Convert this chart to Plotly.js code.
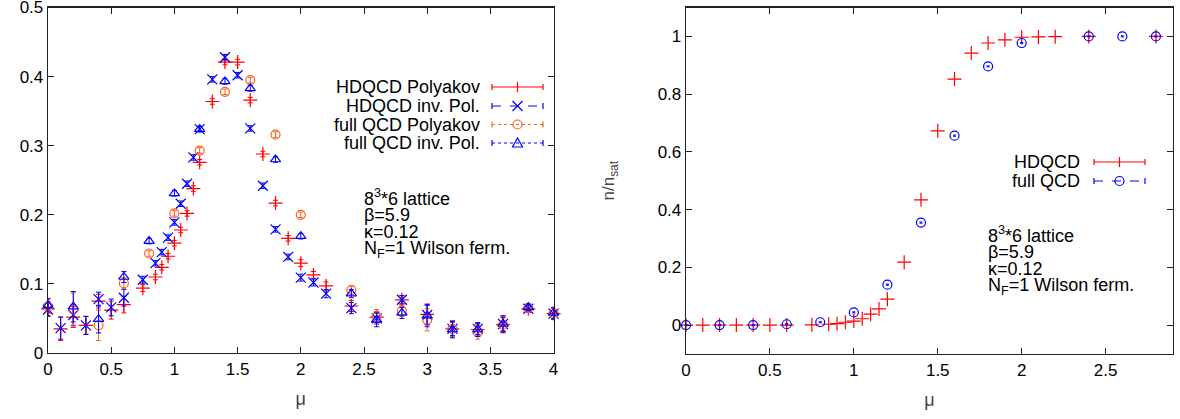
<!DOCTYPE html>
<html>
<head>
<meta charset="utf-8">
<script src="https://cdn.plot.ly/plotly-3.0.1.min.js"></script>
<style>html,body{margin:0;padding:0;background:#fff;}#chart{width:1180px;height:419px;}</style>
</head>
<body>
<div id="chart"></div>
<script>
// ---------- Left panel data (Polyakov loops vs mu) ----------
const muHD = [0,0.1,0.2,0.3,0.4,0.5,0.6,0.75,0.85,0.9,0.95,1.0,1.05,1.1,1.15,1.2,1.3,1.4,1.5,1.6,1.7,1.8,1.9,2.0,2.1,2.2,2.4,2.6,2.8,3.0,3.2,3.4,3.6,3.8,4.0];
const hdPol = [0.064,0.035,0.052,0.040,0.075,0.062,0.070,0.094,0.110,0.124,0.140,0.159,0.178,0.202,0.238,0.276,0.364,0.421,0.421,0.366,0.288,0.217,0.166,0.130,0.113,0.097,0.068,0.052,0.077,0.056,0.035,0.034,0.041,0.064,0.057];
const hdPolErr = [0.010,0.017,0.015,0.013,0.010,0.013,0.012,0.005,0.004,0.004,0.004,0.004,0.004,0.004,0.004,0.004,0.004,0.004,0.004,0.004,0.004,0.004,0.004,0.005,0.005,0.006,0.008,0.008,0.006,0.015,0.010,0.008,0.010,0.005,0.008];
const hdInv = [0.063,0.036,0.055,0.040,0.078,0.066,0.080,0.106,0.130,0.146,0.167,0.189,0.216,0.245,0.283,0.324,0.396,0.428,0.402,0.325,0.242,0.179,0.139,0.109,0.102,0.086,0.065,0.050,0.077,0.055,0.035,0.035,0.042,0.064,0.057];
const hdInvErr = [0.010,0.016,0.015,0.013,0.010,0.012,0.012,0.005,0.004,0.004,0.004,0.004,0.004,0.004,0.004,0.004,0.004,0.004,0.004,0.004,0.004,0.004,0.004,0.005,0.005,0.006,0.008,0.008,0.006,0.014,0.010,0.008,0.010,0.005,0.008];
const muFull = [0,0.2,0.4,0.6,0.8,1.0,1.2,1.4,1.6,1.8,2.0,2.4,2.6,2.8,3.0,3.2,3.4,3.6,3.8,4.0];
const fullPol = [0.067,0.063,0.040,0.101,0.144,0.202,0.293,0.378,0.395,0.316,0.200,0.091,0.053,0.061,0.048,0.035,0.030,0.041,0.065,0.058];
const fullPolErr = [0.010,0.024,0.022,0.008,0.004,0.004,0.004,0.004,0.004,0.004,0.004,0.006,0.010,0.008,0.016,0.012,0.010,0.012,0.005,0.008];
const fullInv = [0.069,0.067,0.049,0.110,0.162,0.231,0.324,0.393,0.383,0.280,0.169,0.086,0.048,0.058,0.054,0.034,0.034,0.042,0.066,0.058];
const fullInvErr = [0.010,0.022,0.020,0.008,0.004,0.004,0.004,0.004,0.004,0.004,0.004,0.006,0.010,0.008,0.016,0.012,0.010,0.012,0.005,0.008];

// ---------- Right panel data (n/n_sat vs mu) ----------
const muHD2 = [0,0.1,0.2,0.3,0.4,0.5,0.6,0.75,0.85,0.9,0.95,1.0,1.05,1.1,1.15,1.2,1.3,1.4,1.5,1.6,1.7,1.8,1.9,2.0,2.1,2.2,2.4,2.8];
const nHD = [0,0,0,0,0,0,0,0.001,0.003,0.005,0.010,0.014,0.022,0.038,0.056,0.090,0.218,0.434,0.673,0.852,0.942,0.977,0.988,0.997,0.998,0.999,1.0,1.0];
const muFull2 = [0,0.2,0.4,0.6,0.8,1.0,1.2,1.4,1.6,1.8,2.0,2.4,2.6,2.8];
const nFull = [0,0,0,0.003,0.010,0.044,0.140,0.355,0.656,0.896,0.977,1.0,1.0,1.0];
const nFullErr = [0.002,0.002,0.002,0.002,0.002,0.002,0.002,0.002,0.002,0.002,0.002,0.002,0.002,0.002];

// ---------- Labels ----------
const leftLegend = ["HDQCD Polyakov","HDQCD inv. Pol.","full QCD Polyakov","full QCD inv. Pol."];
const rightLegend = ["HDQCD","full QCD"];
const infoLines = ["8<sup>3</sup>*6 lattice","β=5.9","κ=0.12","N<sub>F</sub>=1 Wilson ferm."];
const xTicksL = [0,0.5,1,1.5,2,2.5,3,3.5,4];
const yTicksL = [0,0.1,0.2,0.3,0.4,0.5];
const xTicksR = [0,0.5,1,1.5,2,2.5];
const yTicksR = [0,0.2,0.4,0.6,0.8,1];

const RED = '#ff0000', BLUE = '#0000ff', ORANGE = '#ff6020';
const W = 1180, H = 419;
const px = x => x / W, py = y => 1 - y / H;
const FONT = 'Liberation Sans, Arial, sans-serif';

function errTrace(x, y, e, sym, color, xa, ya, size, capw) {
  return {
    x: x, y: y, type: 'scatter', mode: 'markers', xaxis: xa, yaxis: ya, showlegend: false,
    marker: {symbol: sym, size: size || 10, color: color, line: {color: color, width: 1.2}},
    error_y: e ? {type: 'data', array: e, visible: true, color: color, thickness: 1, width: capw || 2.5} : undefined,
    cliponaxis: false
  };
}

const data = [
  errTrace(muHD, hdPol, hdPolErr, 'cross-thin-open', RED, 'x', 'y', 10),
  errTrace(muHD, hdInv, hdInvErr, 'x-thin-open', BLUE, 'x', 'y', 10),
  errTrace(muFull, fullPol, fullPolErr, 'circle-open', ORANGE, 'x', 'y', 9),
  errTrace(muFull, fullInv, fullInvErr, 'triangle-up-open', BLUE, 'x', 'y', 9),
  errTrace(muHD2, nHD, null, 'cross-thin-open', RED, 'x2', 'y2', 10),
  errTrace(muFull2, nFull, nFullErr, 'circle-open', BLUE, 'x2', 'y2', 9, 1.5)
];

// ---------- manual gnuplot-style legends ----------
const shapes = [];
const annotations = [];
function legendRow(text, textRight, x0, x1, y, color, dash, glyph) {
  annotations.push({text: text, xref: 'paper', yref: 'paper', x: px(textRight), y: py(y),
    xanchor: 'right', yanchor: 'middle', showarrow: false, font: {family: FONT, size: 18, color: '#000'}});
  shapes.push({type: 'line', xref: 'paper', yref: 'paper', x0: px(x0), x1: px(x1), y0: py(y), y1: py(y),
    line: {color: color, width: 1.2, dash: dash}});
  [x0, x1].forEach(xx => shapes.push({type: 'line', xref: 'paper', yref: 'paper', x0: px(xx), x1: px(xx),
    y0: py(y - 3), y1: py(y + 3), line: {color: color, width: 1.2}}));
  const xm = (x0 + x1) / 2, r = 5;
  if (glyph === '+') {
    shapes.push({type: 'line', xref: 'paper', yref: 'paper', x0: px(xm), x1: px(xm), y0: py(y - r), y1: py(y + r), line: {color: color, width: 1.2}});
  } else if (glyph === 'x') {
    shapes.push({type: 'line', xref: 'paper', yref: 'paper', x0: px(xm - r), x1: px(xm + r), y0: py(y - r), y1: py(y + r), line: {color: color, width: 1.2}});
    shapes.push({type: 'line', xref: 'paper', yref: 'paper', x0: px(xm - r), x1: px(xm + r), y0: py(y + r), y1: py(y - r), line: {color: color, width: 1.2}});
  } else if (glyph === 'o') {
    shapes.push({type: 'circle', xref: 'paper', yref: 'paper', x0: px(xm - 4.5), x1: px(xm + 4.5), y0: py(y - 4.5), y1: py(y + 4.5), line: {color: color, width: 1.2}, fillcolor: 'rgba(0,0,0,0)'});
  } else if (glyph === 't') {
    shapes.push({type: 'path', xref: 'paper', yref: 'paper',
      path: `M ${px(xm - 5)} ${py(y + 4)} L ${px(xm + 5)} ${py(y + 4)} L ${px(xm)} ${py(y - 5)} Z`,
      line: {color: color, width: 1.2}, fillcolor: 'rgba(0,0,0,0)'});
  }
}
legendRow(leftLegend[0], 482, 492, 543, 87, RED, 'solid', '+');
legendRow(leftLegend[1], 482, 492, 543, 106, BLUE, 'dash', 'x');
legendRow(leftLegend[2], 482, 492, 543, 124.5, ORANGE, 'dot', 'o');
legendRow(leftLegend[3], 482, 492, 543, 143, BLUE, 'dot', 't');
legendRow(rightLegend[0], 1082, 1094, 1145, 162, RED, 'solid', '+');
legendRow(rightLegend[1], 1082, 1094, 1145, 181, BLUE, 'dash', 'o');

function info(xLeft, yTop) {
  infoLines.forEach((t, i) => annotations.push({text: t, xref: 'paper', yref: 'paper', x: px(xLeft), y: py(yTop + i * 17.6),
    xanchor: 'left', yanchor: 'middle', showarrow: false, font: {family: FONT, size: 18, color: '#000'}}));
}
info(362, 197);
info(986, 234);

const axCommon = {
  showgrid: false, zeroline: false, showline: true, linecolor: '#222', linewidth: 1.3,
  mirror: 'ticks', ticks: 'inside', ticklen: 6, tickcolor: '#222', tickwidth: 1,
  ticklabeloverflow: 'allow',
  tickfont: {family: FONT, size: 17, color: '#000'}
};

const layout = {
  width: W, height: H, margin: {l: 0, r: 0, t: 0, b: 0},
  paper_bgcolor: '#fff', plot_bgcolor: '#fff', showlegend: false,
  xaxis: Object.assign({}, axCommon, {domain: [px(48), px(553.6)], range: [0, 4], tickvals: xTicksL, anchor: 'y',
    title: {text: 'μ', font: {family: FONT, size: 18}, standoff: 14}}),
  yaxis: Object.assign({}, axCommon, {domain: [py(353), py(7.5)], range: [0, 0.5], tickvals: yTicksL, anchor: 'x'}),
  xaxis2: Object.assign({}, axCommon, {domain: [px(686), px(1172.7)], range: [0, 2.9], tickvals: xTicksR, anchor: 'y2',
    title: {text: 'μ', font: {family: FONT, size: 18}, standoff: 14}}),
  yaxis2: Object.assign({}, axCommon, {domain: [py(354), py(7.5)], range: [-0.1, 1.1], tickvals: yTicksR, anchor: 'x2',
    title: {text: 'n/n<sub>sat</sub>', font: {family: FONT, size: 17}, standoff: 38}}),
  shapes: shapes, annotations: annotations
};

Plotly.newPlot('chart', data, layout, {staticPlot: true, displayModeBar: false});
</script>
</body>
</html>
